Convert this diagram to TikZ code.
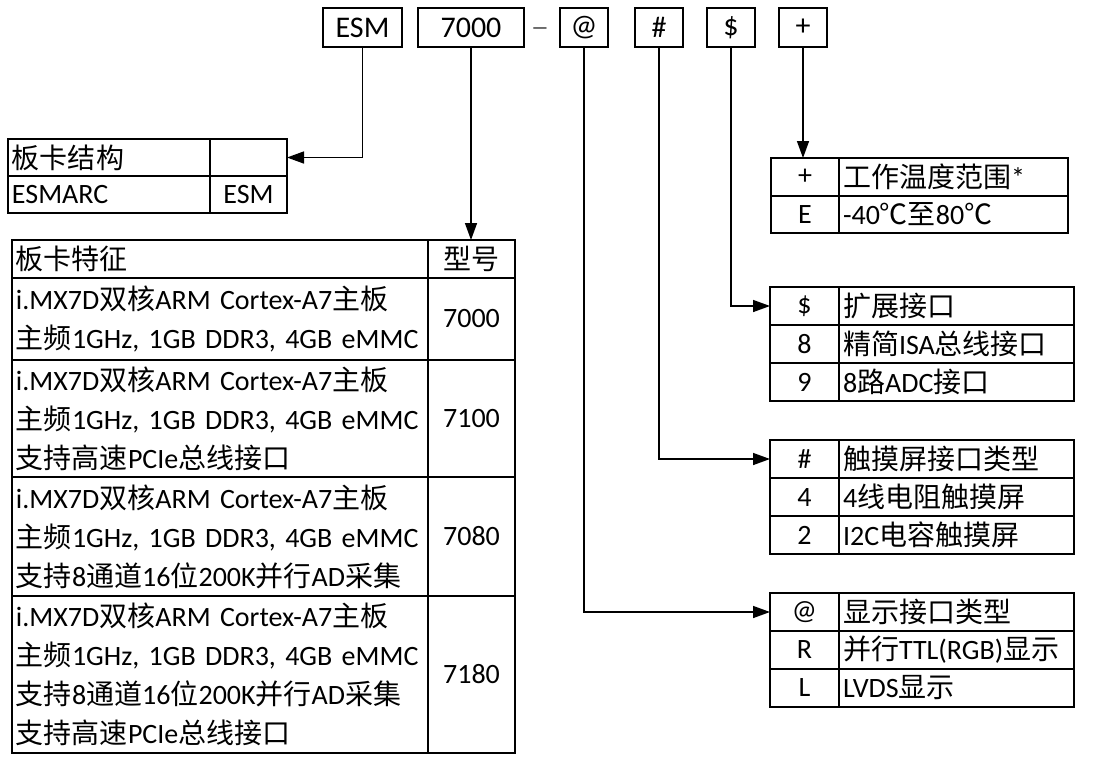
\documentclass[tikz,border=0pt]{standalone}
\usepackage{fontspec}
\setmainfont{Carlito}
\newfontfamily\zhfont{Noto Sans CJK SC}
\newcommand\zh[1]{{\zhfont #1}}
\usetikzlibrary{arrows.meta}
\begin{document}
\begin{tikzpicture}[x=1pt,y=-1pt,
  every node/.style={font=\fontsize{28}{39}\selectfont},
  cell/.style={draw, line width=1.7pt, inner sep=0pt, outer sep=0pt, anchor=north west},
  top/.style={cell, minimum height=39pt, font=\fontsize{30}{36}\selectfont},
  lcell/.style={cell, align=left, inner xsep=4pt},
  conn/.style={line width=1.5pt, -{Triangle[length=17pt,width=12pt]}}]
\useasboundingbox[fill=white] (0,0) rectangle (1113,756);
% top code boxes
\node[top, minimum width=79pt] (esm) at (323,8) {ESM};
\node[top, minimum width=106pt] (m7000) at (418,8) {7000};
\node[font=\fontsize{18}{20}\selectfont, inner sep=0pt] (dash) at (540,31) {—};
\node[top, minimum width=48pt] (at) at (560,8) {@};
\node[top, minimum width=48pt] (hash) at (635,8) {\#};
\node[top, minimum width=48pt] (dollar) at (707,8) {\$};
\node[top, minimum width=48pt] (plus) at (779,8) {+};
% structure table
\node[lcell, text width=194pt, minimum height=37pt] (s11) at (8,139) {\zh{板卡结构}};
\node[cell, minimum width=77pt, minimum height=37pt] (s12) at (210,139) {};
\node[lcell, text width=194pt, minimum height=37pt] (s21) at (8,176) {ESMARC};
\node[cell, minimum width=77pt, minimum height=37pt] (s22) at (210,176) {ESM};
% feature table
\node[lcell, text width=408pt, minimum height=38pt] (b01) at (12,240) {\zh{板卡特征}};
\node[cell, minimum width=87pt, minimum height=38pt] (b02) at (428,240) {\zh{型号}};
\node[lcell, text width=408pt, minimum height=82pt] (b11) at (12,278) {i.MX7D\zh{双核}ARM Cortex-A7\zh{主板}\\\zh{主频}1GHz, 1GB DDR3, 4GB eMMC};
\node[cell, minimum width=87pt, minimum height=82pt] (b12) at (428,278) {7000};
\node[lcell, text width=408pt, minimum height=117pt] (b21) at (12,360) {i.MX7D\zh{双核}ARM Cortex-A7\zh{主板}\\\zh{主频}1GHz, 1GB DDR3, 4GB eMMC\\\zh{支持高速}PCIe\zh{总线接口}};
\node[cell, minimum width=87pt, minimum height=117pt] (b22) at (428,360) {7100};
\node[lcell, text width=408pt, minimum height=119pt] (b31) at (12,477) {i.MX7D\zh{双核}ARM Cortex-A7\zh{主板}\\\zh{主频}1GHz, 1GB DDR3, 4GB eMMC\\\zh{支持}8\zh{通道}16\zh{位}200K\zh{并行}AD\zh{采集}};
\node[cell, minimum width=87pt, minimum height=119pt] (b32) at (428,477) {7080};
\node[lcell, text width=408pt, minimum height=157pt] (b41) at (12,596) {i.MX7D\zh{双核}ARM Cortex-A7\zh{主板}\\\zh{主频}1GHz, 1GB DDR3, 4GB eMMC\\\zh{支持}8\zh{通道}16\zh{位}200K\zh{并行}AD\zh{采集}\\\zh{支持高速}PCIe\zh{总线接口}};
\node[cell, minimum width=87pt, minimum height=157pt] (b42) at (428,596) {7180};
% temperature table
\node[cell, minimum width=68pt, minimum height=38pt] (p1) at (771,158) {+};
\node[lcell, text width=221pt, minimum height=38pt] (p2) at (839,158) {\zh{工作温度范围}*};
\node[cell, minimum width=68pt, minimum height=37pt] (p3) at (771,196) {E};
\node[lcell, text width=221pt, minimum height=37pt] (p4) at (839,196) {-40\zh{℃至}80\zh{℃}};
% extension table
\node[cell, minimum width=69pt, minimum height=38pt] (d1) at (770,287) {\$};
\node[lcell, text width=227pt, minimum height=38pt] (d2) at (839,287) {\zh{扩展接口}};
\node[cell, minimum width=69pt, minimum height=38pt] (d3) at (770,325) {8};
\node[lcell, text width=227pt, minimum height=38pt] (d4) at (839,325) {\zh{精简}ISA\zh{总线接口}};
\node[cell, minimum width=69pt, minimum height=38pt] (d5) at (770,363) {9};
\node[lcell, text width=227pt, minimum height=38pt] (d6) at (839,363) {8\zh{路}ADC\zh{接口}};
% touch table
\node[cell, minimum width=69pt, minimum height=38pt] (h1) at (770,440) {\#};
\node[lcell, text width=227pt, minimum height=38pt] (h2) at (839,440) {\zh{触摸屏接口类型}};
\node[cell, minimum width=69pt, minimum height=38pt] (h3) at (770,478) {4};
\node[lcell, text width=227pt, minimum height=38pt] (h4) at (839,478) {4\zh{线电阻触摸屏}};
\node[cell, minimum width=69pt, minimum height=38pt] (h5) at (770,516) {2};
\node[lcell, text width=227pt, minimum height=38pt] (h6) at (839,516) {I2C\zh{电容触摸屏}};
% display table
\node[cell, minimum width=69pt, minimum height=38pt] (a1) at (770,593) {@};
\node[lcell, text width=227pt, minimum height=38pt] (a2) at (839,593) {\zh{显示接口类型}};
\node[cell, minimum width=69pt, minimum height=38pt] (a3) at (770,631) {R};
\node[lcell, text width=227pt, minimum height=38pt] (a4) at (839,631) {\zh{并行}TTL(RGB)\zh{显示}};
\node[cell, minimum width=69pt, minimum height=38pt] (a5) at (770,669) {L};
\node[lcell, text width=227pt, minimum height=38pt] (a6) at (839,669) {LVDS\zh{显示}};
% connectors
\draw[conn] (esm.south) |- (s12.east);
\draw[conn] (m7000.south) -- (m7000.south |- b02.north);
\draw[conn] (plus.south) -- (plus.south |- p1.north);
\draw[conn] (dollar.south) |- (d1.west);
\draw[conn] (hash.south) |- (h1.west);
\draw[conn] (at.south) |- (a1.west);
\end{tikzpicture}
\end{document}
